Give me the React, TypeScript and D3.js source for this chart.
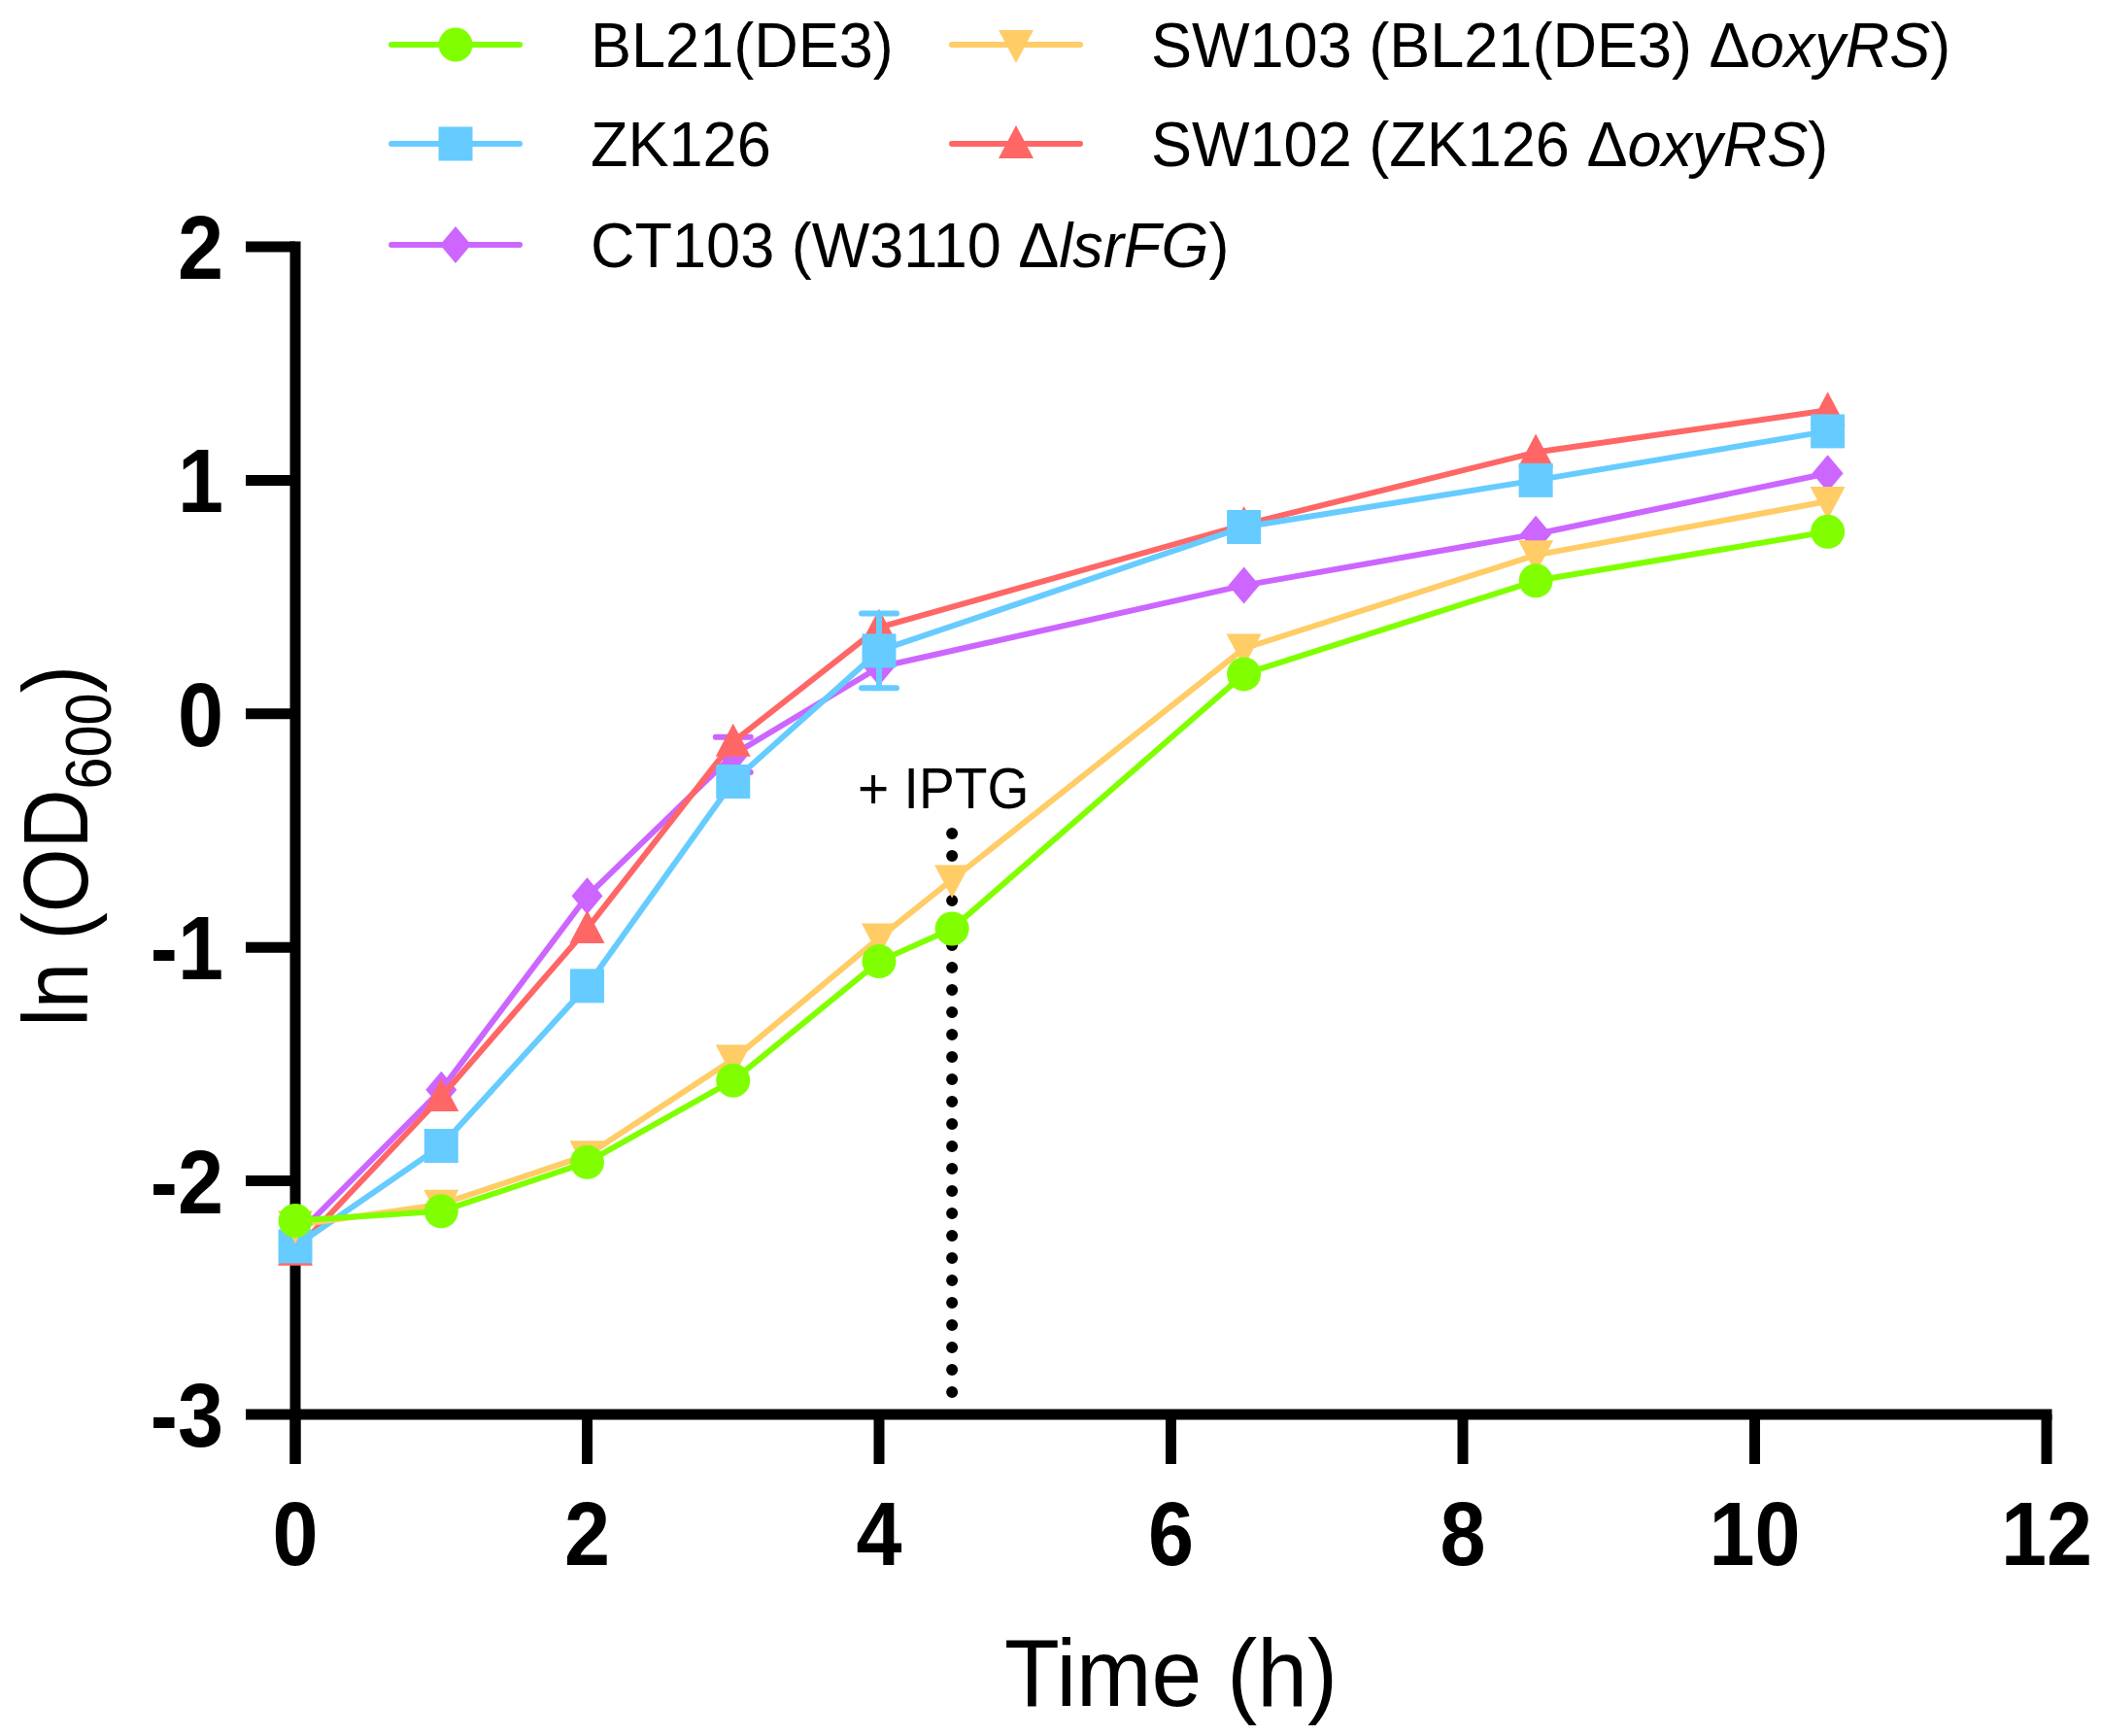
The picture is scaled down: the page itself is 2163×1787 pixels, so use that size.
import React from 'react';
import * as d3 from 'd3';

// growth curves, ln(OD600) vs time (h)
const timeAll = [0, 1, 2, 3, 4, 6.5, 8.5, 10.5];
const timeInduced = [0, 1, 2, 3, 4, 4.5, 6.5, 8.5, 10.5];

const bl21 = [-2.17, -2.13, -1.92, -1.57, -1.06, -0.92, 0.17, 0.57, 0.78];
const sw103 = [-2.19, -2.1, -1.89, -1.48, -0.96, -0.71, 0.28, 0.68, 0.91];
const zk126 = [-2.28, -1.85, -1.165, -0.29, 0.27, 0.8, 1.0, 1.21];
const sw102 = [-2.3, -1.64, -0.92, -0.12, 0.37, 0.81, 1.12, 1.3];
const ct103 = [-2.24, -1.61, -0.78, -0.175, 0.2, 0.55, 0.77, 1.03];

const zk126Err = [0, 0, 0, 0, 0.16, 0, 0, 0];
const ct103Err = [0, 0, 0, 0.075, 0, 0, 0, 0];

const xTicks = [0, 2, 4, 6, 8, 10, 12];
const yTicks = [-3, -2, -1, 0, 1, 2];
const iptgTime = 4.5;

const FONT = '"Liberation Sans", Arial, Helvetica, sans-serif';

type Shape = 'circle' | 'square' | 'triUp' | 'triDown' | 'diamond';

interface Series {
  key: string;
  color: string;
  shape: Shape;
  times: number[];
  values: number[];
  errors?: number[];
}

// drawn bottom to top
const series: Series[] = [
  { key: 'CT103', color: '#CC66FF', shape: 'diamond', times: timeAll, values: ct103, errors: ct103Err },
  { key: 'SW102', color: '#FF6666', shape: 'triUp', times: timeAll, values: sw102 },
  { key: 'ZK126', color: '#66CCFF', shape: 'square', times: timeAll, values: zk126, errors: zk126Err },
  { key: 'SW103', color: '#FFCC66', shape: 'triDown', times: timeInduced, values: sw103 },
  { key: 'BL21', color: '#80FF00', shape: 'circle', times: timeInduced, values: bl21 },
];

function Marker({ shape, color, x, y }: { shape: Shape; color: string; x: number; y: number }) {
  switch (shape) {
    case 'circle':
      return <circle cx={x} cy={y} r={17.5} fill={color} />;
    case 'square':
      return <rect x={x - 17.5} y={y - 17.5} width={35} height={35} fill={color} />;
    case 'triUp':
      return <path d={`M${x},${y - 19}L${x + 18},${y + 15}L${x - 18},${y + 15}Z`} fill={color} />;
    case 'triDown':
      return <path d={`M${x},${y + 19}L${x + 18},${y - 15}L${x - 18},${y - 15}Z`} fill={color} />;
    case 'diamond':
      return <path d={`M${x},${y - 19}L${x + 16},${y}L${x},${y + 19}L${x - 16},${y}Z`} fill={color} />;
  }
}

// text squeezed a little horizontally, like the source figure
function T({
  x,
  y,
  sx = 1,
  anchor = 'start',
  children,
  ...rest
}: {
  x: number;
  y: number;
  sx?: number;
  anchor?: string;
  children: React.ReactNode;
  [k: string]: any;
}) {
  return (
    <text transform={`translate(${x},${y}) scale(${sx},1)`} textAnchor={anchor} {...rest}>
      {children}
    </text>
  );
}

const App: React.FC = () => {
  const W = 2163;
  const H = 1787;
  const x = d3.scaleLinear().domain([0, 12]).range([304, 2107]);
  const y = d3.scaleLinear().domain([-3, 2]).range([1456, 254]);
  const axisW = 11;
  const tickLen = 51;

  const line = d3
    .line<[number, number]>()
    .x((d) => x(d[0]))
    .y((d) => y(d[1]));

  const legend = [
    { s: series[4], col: 0, row: 0, label: <>BL21(DE3)</> },
    { s: series[2], col: 0, row: 1, label: <>ZK126</> },
    {
      s: series[0],
      col: 0,
      row: 2,
      label: (
        <>
          CT103 (W3110 Δ<tspan fontStyle="italic">lsrFG</tspan>)
        </>
      ),
    },
    {
      s: series[3],
      col: 1,
      row: 0,
      label: (
        <>
          SW103 (BL21(DE3) Δ<tspan fontStyle="italic">oxyRS</tspan>)
        </>
      ),
    },
    {
      s: series[1],
      col: 1,
      row: 1,
      label: (
        <>
          SW102 (ZK126 Δ<tspan fontStyle="italic">oxyRS</tspan>)
        </>
      ),
    },
  ];
  const legendCols = [403, 980];
  const legendRows = [46, 148, 252];

  return (
    <svg
      width={W}
      height={H}
      style={{ position: 'absolute', left: 0, top: 0, background: '#fff' }}
      fontFamily={FONT}
    >
      {/* axes */}
      <g stroke="#000" strokeWidth={axisW}>
        <line x1={x(0)} x2={x(0)} y1={y(2) - axisW / 2} y2={y(-3) + tickLen} />
        <line x1={x(0)} x2={x(12) + axisW / 2} y1={y(-3)} y2={y(-3)} />
        {yTicks.map((t) => (
          <line key={t} x1={x(0) - tickLen} x2={x(0)} y1={y(t)} y2={y(t)} />
        ))}
        {xTicks.map((t) => (
          <line key={t} x1={x(t)} x2={x(t)} y1={y(-3)} y2={y(-3) + tickLen} />
        ))}
      </g>
      <g fontWeight="bold" fontSize={92} fill="#000">
        {yTicks.map((t) => (
          <T key={t} x={230} y={y(t) + 33} sx={0.92} anchor="end">
            {t}
          </T>
        ))}
        {xTicks.map((t) => (
          <T key={t} x={x(t)} y={1611} sx={0.92} anchor="middle">
            {t}
          </T>
        ))}
      </g>
      <T x={(x(0) + x(12)) / 2} y={1756} sx={0.95} anchor="middle" fontSize={98}>
        Time (h)
      </T>
      <text
        transform={`translate(90,${(y(2) + y(-3)) / 2 + 16}) rotate(-90) scale(0.9,1)`}
        textAnchor="middle"
        fontSize={94}
      >
        ln (OD<tspan fontSize={66} dy={24}>600</tspan>
        <tspan dy={-24}>)</tspan>
      </text>

      {/* IPTG induction */}
      <line
        x1={x(iptgTime)}
        x2={x(iptgTime)}
        y1={858}
        y2={y(-3) - 8}
        stroke="#000"
        strokeWidth={12}
        strokeLinecap="round"
        strokeDasharray="0 23"
      />
      <T x={883} y={832} sx={0.92} fontSize={60}>
        + IPTG
      </T>

      {/* series */}
      {series.map((s) => (
        <g key={s.key}>
          <path
            d={line(s.times.map((t, i) => [t, s.values[i]] as [number, number])) as string}
            fill="none"
            stroke={s.color}
            strokeWidth={6}
            strokeLinejoin="round"
          />
          {s.errors &&
            s.errors.map((e, i) =>
              e > 0 ? (
                <g key={i} stroke={s.color} strokeWidth={6} strokeLinecap="round">
                  <line x1={x(s.times[i])} x2={x(s.times[i])} y1={y(s.values[i] + e)} y2={y(s.values[i] - e)} />
                  <line x1={x(s.times[i]) - 18} x2={x(s.times[i]) + 18} y1={y(s.values[i] + e)} y2={y(s.values[i] + e)} />
                  <line x1={x(s.times[i]) - 18} x2={x(s.times[i]) + 18} y1={y(s.values[i] - e)} y2={y(s.values[i] - e)} />
                </g>
              ) : null
            )}
          {s.times.map((t, i) => (
            <Marker key={i} shape={s.shape} color={s.color} x={x(t)} y={y(s.values[i])} />
          ))}
        </g>
      ))}

      {/* legend */}
      {legend.map((l, i) => {
        const lx = legendCols[l.col];
        const ly = legendRows[l.row];
        return (
          <g key={i}>
            <line x1={lx} x2={lx + 132} y1={ly} y2={ly} stroke={l.s.color} strokeWidth={6} strokeLinecap="round" />
            <Marker shape={l.s.shape} color={l.s.color} x={lx + 66} y={ly} />
            <T x={lx + 205} y={ly + 23} sx={0.985} fontSize={64}>
              {l.label}
            </T>
          </g>
        );
      })}
    </svg>
  );
};

export default App;
